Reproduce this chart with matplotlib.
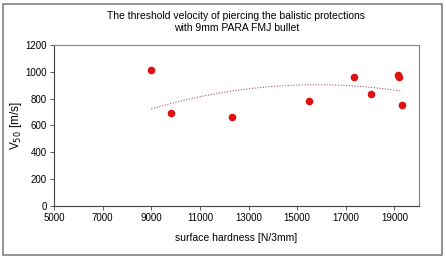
import numpy as np
import matplotlib.pyplot as plt
from matplotlib.patches import Rectangle

plt.rcParams['font.family'] = ['Liberation Sans', 'DejaVu Sans']

hardness = [9000, 9830, 12300, 15480, 17320, 18040, 19150, 19190, 19300]
v50 = [1012, 695, 663, 785, 959, 833, 979, 959, 753]
# polynomial (order 2) trend line coefficients as shown in the chart
trend_coef = [-3.9e-6, 0.12324, -69.6]

x_ticks = [5000, 7000, 9000, 11000, 13000, 15000, 17000, 19000]
y_ticks = [0, 200, 400, 600, 800, 1000, 1200]

fig = plt.figure(figsize=(4.46, 2.62), dpi=100)
fig.patches.append(Rectangle((0.006, 0.025), 0.984, 0.96, transform=fig.transFigure,
                             fill=False, edgecolor='#808080', linewidth=1.2))
ax = fig.add_axes([0.121, 0.214, 0.818, 0.614])

xs = np.linspace(min(hardness), max(hardness), 100)
ax.plot(xs, np.polyval(trend_coef, xs), linestyle=(0, (1, 1.5)), color='#a85868', linewidth=0.8)
ax.scatter(hardness, v50, s=20, color='#e01010', zorder=3)

ax.set_xlim(5000, 20000)
ax.set_ylim(0, 1200)
ax.set_xticks(x_ticks)
ax.set_yticks(y_ticks)
ax.tick_params(labelsize=7, length=3, width=0.6, color='#404040', pad=2)
for s in ax.spines.values():
    s.set_color('#808080')
    s.set_linewidth(0.8)
ax.spines['left'].set_color('#404040')
ax.spines['bottom'].set_color('#404040')

ax.set_title("The threshold velocity of piercing the balistic protections\nwith 9mm PARA FMJ bullet",
             fontsize=7.5, pad=10, linespacing=1.3)
ax.set_xlabel("surface hardness [N/3mm]", fontsize=7.5, labelpad=7)
ax.set_ylabel("V$_{50}$ [m/s]", fontsize=8.5, labelpad=1)

fig.savefig('out.png', dpi=100)
